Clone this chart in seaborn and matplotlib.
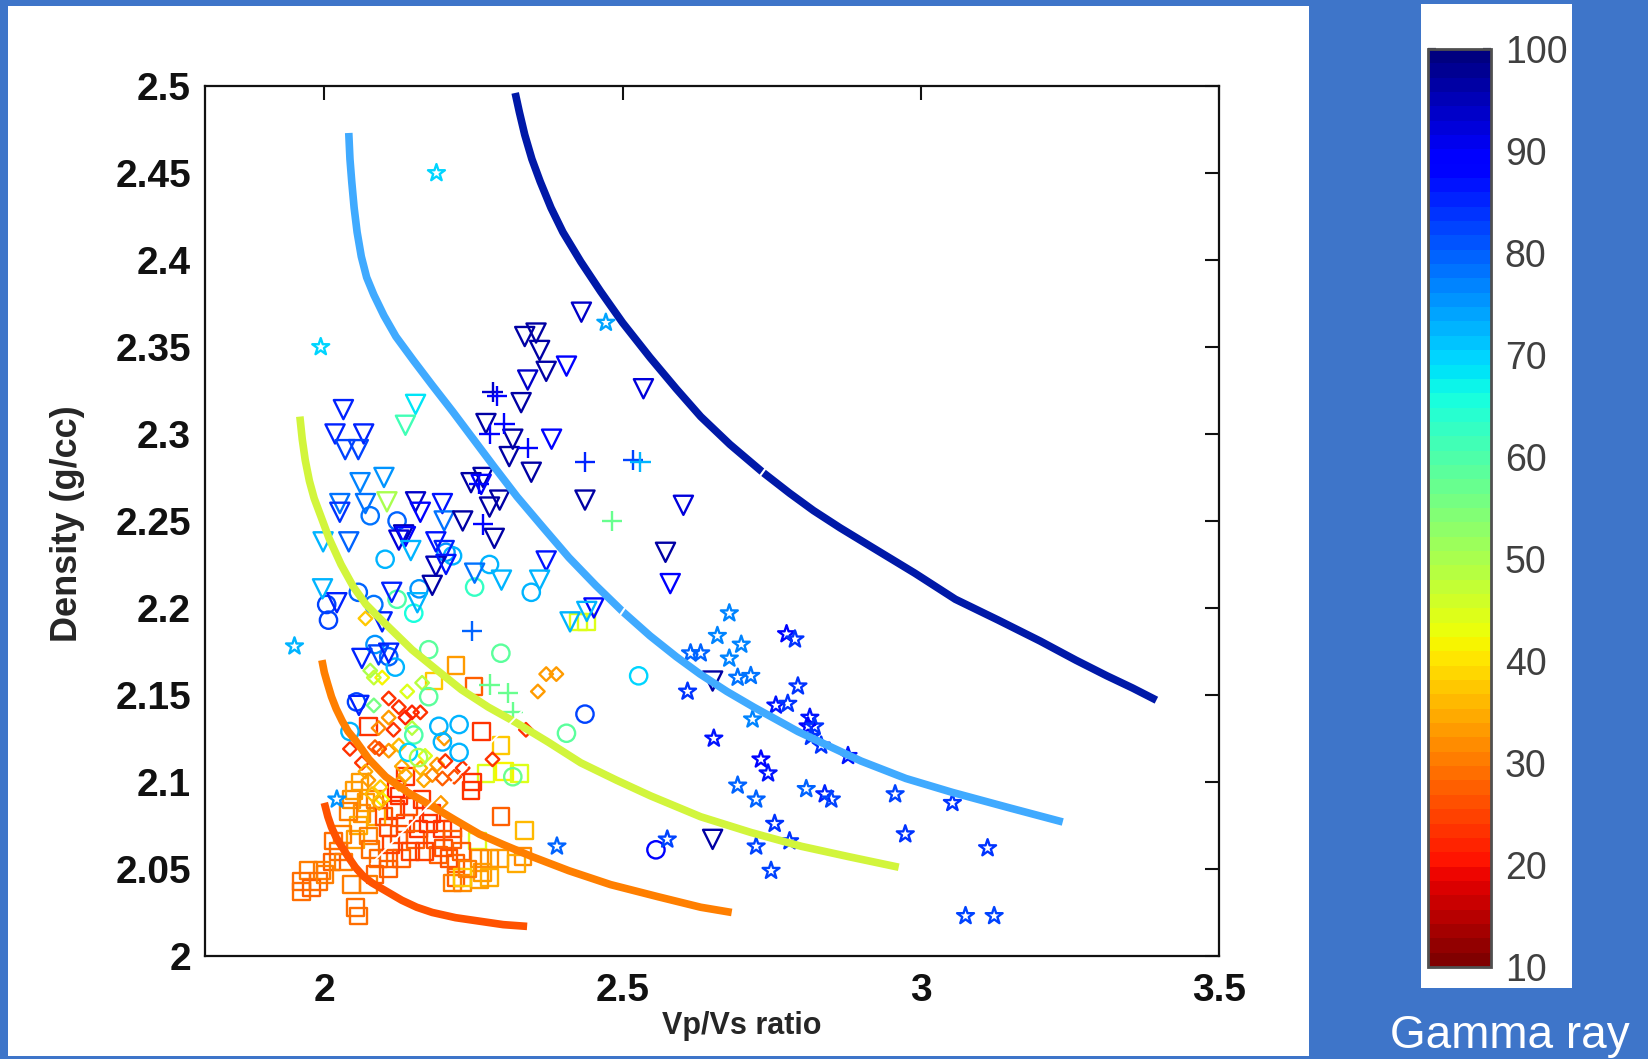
import numpy as np
import matplotlib
matplotlib.use("Agg")
import matplotlib.pyplot as plt
from matplotlib.patches import Rectangle
from matplotlib.ticker import FormatStrFormatter
import seaborn as sns

# ---- values ----
# triangles (down)
tri_x = [2.431, 2.336, 2.355, 2.361, 2.406, 2.341, 2.372, 2.330, 2.535, 2.271,
         2.316, 2.381, 2.310, 2.347, 2.437, 2.602, 2.246, 2.266, 2.263, 2.294,
         2.277, 2.285, 2.032, 2.153, 2.136, 2.018, 2.066, 2.035, 2.057, 2.060,
         2.100, 2.026, 2.026, 2.069, 2.105, 2.153, 2.161, 2.198, 2.201, 2.232,
         2.125, 2.133, 2.136, 2.145, 1.998, 2.041, 2.187, 2.201, 2.187, 2.204,
         2.181, 2.252, 2.297, 2.372, 2.361, 1.997, 2.113, 2.021, 2.156, 2.097,
         2.572, 2.580, 2.452, 2.412, 2.651, 2.651, 2.063, 2.058, 2.091, 2.108,
         2.440]
tri_y = [2.370, 2.356, 2.358, 2.348, 2.339, 2.331, 2.336, 2.318, 2.326, 2.306,
         2.297, 2.297, 2.287, 2.278, 2.262, 2.259, 2.272, 2.275, 2.271, 2.262,
         2.258, 2.240, 2.314, 2.317, 2.305, 2.300, 2.300, 2.291, 2.291, 2.272,
         2.275, 2.260, 2.255, 2.260, 2.261, 2.261, 2.255, 2.260, 2.250, 2.250,
         2.239, 2.242, 2.241, 2.233, 2.238, 2.238, 2.238, 2.233, 2.224, 2.225,
         2.213, 2.220, 2.216, 2.227, 2.216, 2.211, 2.209, 2.203, 2.203, 2.192,
         2.232, 2.214, 2.200, 2.192, 2.158, 2.067, 2.171, 2.144, 2.173, 2.174,
         2.198]
tri_gr = [93, 97, 97, 97, 90, 93, 97, 97, 92, 97,
          97, 88, 97, 97, 97, 92, 97, 97, 90, 97,
          97, 97, 85, 68, 62, 85, 85, 83, 83, 77,
          75, 78, 84, 78, 50, 94, 88, 87, 78, 97,
          92, 95, 88, 72, 73, 80, 87, 85, 95, 86,
          97, 78, 73, 86, 73, 73, 85, 85, 72, 85,
          97, 90, 88, 72, 97, 97, 85, 85, 82, 85,
          72]

# plus signs
plus_x = [2.282, 2.290, 2.302, 2.277, 2.341, 2.437, 2.518, 2.530, 2.482, 2.260,
          2.266, 2.248, 2.277, 2.308, 2.316]
plus_y = [2.324, 2.322, 2.306, 2.300, 2.292, 2.284, 2.285, 2.284, 2.250, 2.271,
          2.248, 2.187, 2.156, 2.151, 2.140]
plus_gr = [93, 90, 88, 90, 88, 85, 82, 72, 57, 88,
           88, 80, 57, 57, 57]

# circles
circ_x = [2.077, 2.122, 2.102, 2.204, 2.215, 2.277, 2.252, 2.347, 2.159, 2.122,
          2.150, 2.004, 2.007, 2.057, 2.083, 2.085, 2.108, 2.119, 2.175, 2.296,
          2.175, 2.054, 2.043, 2.192, 2.226, 2.150, 2.198, 2.406, 2.141, 2.158,
          2.226, 2.316, 2.527, 2.437, 2.556]
circ_y = [2.253, 2.250, 2.228, 2.232, 2.230, 2.225, 2.212, 2.209, 2.211, 2.205,
          2.197, 2.202, 2.193, 2.209, 2.202, 2.179, 2.172, 2.166, 2.176, 2.174,
          2.149, 2.146, 2.129, 2.132, 2.133, 2.127, 2.123, 2.128, 2.117, 2.114,
          2.117, 2.103, 2.161, 2.139, 2.061]
circ_gr = [78, 80, 73, 75, 73, 73, 63, 73, 76, 60,
           65, 82, 82, 80, 78, 75, 80, 72, 58, 58,
           58, 82, 72, 72, 72, 60, 72, 58, 70, 50,
           72, 57, 70, 82, 90]

# diamonds
dia_x = [2.069, 2.077, 2.097, 2.083, 2.139, 2.164, 2.372, 2.389, 2.358, 2.108,
         2.125, 2.147, 2.161, 2.136, 2.083, 2.108, 2.091, 2.116, 2.147, 2.201,
         2.338, 2.043, 2.085, 2.108, 2.169, 2.282, 2.063, 2.130, 2.161, 2.189,
         2.203, 2.069, 2.232, 2.074, 2.136, 2.167, 2.181, 2.218, 2.080, 2.097,
         2.195, 2.092, 2.125, 2.092, 2.094, 2.125, 2.198]
dia_y = [2.194, 2.164, 2.160, 2.160, 2.152, 2.157, 2.162, 2.162, 2.152, 2.148,
         2.143, 2.140, 2.140, 2.137, 2.144, 2.137, 2.131, 2.130, 2.131, 2.125,
         2.130, 2.119, 2.120, 2.118, 2.115, 2.113, 2.111, 2.109, 2.108, 2.110,
         2.112, 2.106, 2.108, 2.101, 2.104, 2.101, 2.104, 2.103, 2.093, 2.090,
         2.088, 2.088, 2.121, 2.119, 2.097, 2.099, 2.102]
dia_gr = [38, 50, 42, 47, 45, 48, 33, 33, 33, 24,
          24, 22, 24, 22, 55, 33, 32, 24, 48, 33,
          24, 24, 27, 33, 45, 24, 24, 34, 36, 33,
          24, 34, 24, 33, 34, 34, 32, 26, 36, 42,
          33, 34, 36, 26, 38, 33, 28]

# squares
sq_x = [2.426, 2.440, 2.221, 2.184, 2.251, 2.074, 2.263, 2.296, 2.271, 2.302,
        2.327, 2.249, 2.136, 2.246, 2.296, 2.336, 2.257, 2.333, 2.046, 2.063,
        2.057, 2.074, 2.052, 2.125, 2.119, 2.142, 2.164, 2.136, 2.108, 2.158,
        2.125, 2.153, 2.175, 2.198, 2.215, 2.187, 2.215, 2.192, 2.209, 2.221,
        2.221, 2.232, 2.215, 2.091, 2.108, 2.130, 2.108, 2.077, 2.024, 2.013,
        2.032, 1.996, 1.973, 1.962, 1.979, 1.962, 2.001, 2.046, 2.074, 2.052,
        2.057, 2.260, 2.277, 2.265, 2.277, 2.294, 2.322, 2.260, 2.232, 2.088,
        2.070, 2.040, 2.050, 2.085, 2.100, 2.112, 2.145, 2.168, 2.180, 2.200,
        2.230, 2.240, 2.030, 2.015, 1.990, 2.085, 2.120, 2.060]
sq_y = [2.192, 2.192, 2.167, 2.158, 2.155, 2.132, 2.129, 2.121, 2.105, 2.106,
        2.105, 2.100, 2.103, 2.095, 2.080, 2.072, 2.066, 2.057, 2.090, 2.082,
        2.075, 2.069, 2.067, 2.092, 2.084, 2.086, 2.090, 2.076, 2.074, 2.073,
        2.070, 2.067, 2.076, 2.073, 2.073, 2.067, 2.067, 2.058, 2.056, 2.053,
        2.045, 2.042, 2.042, 2.056, 2.056, 2.056, 2.050, 2.061, 2.060, 2.054,
        2.054, 2.049, 2.049, 2.043, 2.039, 2.037, 2.047, 2.041, 2.041, 2.028,
        2.023, 2.056, 2.056, 2.048, 2.045, 2.056, 2.053, 2.044, 2.045, 2.080,
        2.088, 2.083, 2.095, 2.090, 2.080, 2.064, 2.060, 2.060, 2.082, 2.062,
        2.060, 2.050, 2.070, 2.066, 2.043, 2.047, 2.096, 2.100]
sq_gr = [44, 44, 33, 38, 28, 24, 24, 38, 44, 42,
         44, 24, 24, 24, 28, 36, 44, 32, 32, 32,
         34, 30, 33, 24, 24, 26, 24, 26, 25, 24,
         26, 27, 24, 24, 25, 26, 27, 27, 26, 27,
         28, 32, 30, 29, 28, 27, 27, 29, 29, 28,
         30, 30, 30, 29, 28, 29, 30, 30, 30, 29,
         29, 32, 32, 33, 34, 33, 34, 33, 38, 35,
         33, 31, 33, 30, 26, 25, 25, 25, 24, 26,
         27, 30, 31, 29, 29, 28, 22, 33]

# stars
star_x = [2.188, 1.994, 2.472, 1.950, 2.021, 2.390, 2.575, 2.679, 2.659, 2.699,
          2.614, 2.631, 2.679, 2.775, 2.789, 2.693, 2.715, 2.609, 2.794, 2.757,
          2.777, 2.718, 2.814, 2.811, 2.822, 2.816, 2.833, 2.878, 2.653, 2.732,
          2.744, 2.693, 2.724, 2.808, 2.839, 2.850, 2.957, 3.053, 2.755, 2.724,
          2.780, 2.974, 2.749, 3.112, 3.075, 3.123]
star_y = [2.450, 2.350, 2.364, 2.178, 2.090, 2.063, 2.067, 2.197, 2.184, 2.179,
          2.174, 2.174, 2.171, 2.185, 2.182, 2.160, 2.161, 2.152, 2.155, 2.144,
          2.145, 2.136, 2.137, 2.132, 2.132, 2.126, 2.121, 2.115, 2.125, 2.113,
          2.105, 2.098, 2.090, 2.096, 2.093, 2.090, 2.093, 2.088, 2.076, 2.063,
          2.066, 2.070, 2.049, 2.062, 2.023, 2.023]
star_gr = [70, 70, 74, 72, 76, 80, 82, 77, 77, 77,
           80, 80, 77, 88, 84, 78, 78, 84, 84, 86,
           84, 77, 86, 88, 84, 84, 84, 86, 86, 88,
           86, 79, 79, 80, 85, 82, 83, 84, 84, 82,
           84, 84, 82, 84, 82, 82]

# curves
navy_x = [2.320, 2.327, 2.336, 2.348, 2.362, 2.380, 2.400, 2.430, 2.463, 2.500,
          2.546, 2.590, 2.631, 2.680, 2.735, 2.780, 2.820, 2.865, 2.913, 2.990,
          3.058, 3.130, 3.200, 3.260, 3.312, 3.355, 3.395]
navy_y = [2.496, 2.485, 2.472, 2.458, 2.445, 2.430, 2.416, 2.399, 2.382, 2.364,
          2.344, 2.326, 2.310, 2.294, 2.278, 2.266, 2.256, 2.246, 2.236, 2.220,
          2.205, 2.193, 2.181, 2.170, 2.161, 2.154, 2.147]
lblue_x = [2.041, 2.043, 2.046, 2.050, 2.055, 2.062, 2.071, 2.083, 2.100, 2.120,
           2.150, 2.181, 2.215, 2.250, 2.285, 2.323, 2.365, 2.410, 2.455, 2.500,
           2.546, 2.590, 2.630, 2.675, 2.720, 2.794, 2.850, 2.900, 2.975, 3.053,
           3.150, 3.238]
lblue_y = [2.473, 2.458, 2.445, 2.430, 2.416, 2.402, 2.390, 2.380, 2.368, 2.356,
           2.342, 2.328, 2.313, 2.297, 2.281, 2.264, 2.247, 2.229, 2.213, 2.198,
           2.184, 2.172, 2.162, 2.152, 2.143, 2.129, 2.120, 2.112, 2.102, 2.094,
           2.085, 2.077]
ygrn_x = [1.959, 1.963, 1.968, 1.975, 1.983, 1.995, 2.008, 2.028, 2.049, 2.070,
          2.096, 2.120, 2.147, 2.190, 2.230, 2.275, 2.322, 2.375, 2.430, 2.490,
          2.547, 2.631, 2.715, 2.800, 2.880, 2.963]
ygrn_y = [2.310, 2.297, 2.285, 2.273, 2.263, 2.252, 2.240, 2.225, 2.212, 2.202,
          2.193, 2.185, 2.176, 2.164, 2.153, 2.143, 2.134, 2.123, 2.111, 2.101,
          2.092, 2.080, 2.071, 2.063, 2.057, 2.051]
orng_x = [1.996, 2.000, 2.005, 2.012, 2.020, 2.030, 2.040, 2.052, 2.075, 2.103,
          2.140, 2.181, 2.220, 2.260, 2.300, 2.349, 2.410, 2.480, 2.560, 2.631,
          2.683]
orng_y = [2.170, 2.163, 2.157, 2.149, 2.142, 2.135, 2.129, 2.124, 2.113, 2.103,
          2.094, 2.086, 2.078, 2.070, 2.064, 2.057, 2.049, 2.041, 2.034, 2.028,
          2.025]
red_x = [2.000, 2.006, 2.012, 2.020, 2.029, 2.040, 2.052, 2.065, 2.080, 2.105,
         2.130, 2.155, 2.181, 2.220, 2.260, 2.300, 2.340]
red_y = [2.088, 2.080, 2.074, 2.068, 2.063, 2.057, 2.051, 2.046, 2.042, 2.037,
         2.032, 2.028, 2.025, 2.022, 2.020, 2.018, 2.017]

x_ticks = [2, 2.5, 3, 3.5]
y_ticks = [2, 2.05, 2.1, 2.15, 2.2, 2.25, 2.3, 2.35, 2.4, 2.45, 2.5]
cb_ticks = [10, 20, 30, 40, 50, 60, 70, 80, 90, 100]

# ---- drawing ----
sns.set_style("white")
plt.rcParams["font.family"] = ["Liberation Sans", "DejaVu Sans"]

bg = "#3e75c9"
fig = plt.figure(figsize=(16.48, 10.59), dpi=100, facecolor=bg)
fig.patches.append(Rectangle((0.005, 0.003), 0.789, 0.991, transform=fig.transFigure,
                             facecolor="white", edgecolor="none", zorder=-10))
fig.patches.append(Rectangle((0.862, 0.067), 0.0916, 0.929, transform=fig.transFigure,
                             facecolor="white", edgecolor="none", zorder=-10))

ax = fig.add_axes([0.1244, 0.0973, 0.6153, 0.8215])
cmap = plt.get_cmap("jet_r", 64)


def hollow(x, y, gr, marker, size):
    sns.scatterplot(x=x, y=y, hue=gr, palette=cmap, hue_norm=(10, 100), marker=marker,
                    s=size, linewidth=1.7, edgecolor=None, legend=False, ax=ax, zorder=2)
    pc = ax.collections[-1]
    cols = np.array(pc.get_facecolors())
    pc.set_edgecolors(cols)
    pc.set_facecolors("none")


hollow(sq_x, sq_y, sq_gr, "s", 145)
hollow(dia_x, dia_y, dia_gr, "D", 48)
hollow(circ_x, circ_y, circ_gr, "o", 155)
hollow(tri_x, tri_y, tri_gr, "v", 190)
hollow(plus_x, plus_y, plus_gr, "+", 210)
hollow(star_x, star_y, star_gr, "*", 165)

for cx, cy, c in [(navy_x, navy_y, "#0019a8"), (lblue_x, lblue_y, "#40aaff"),
                  (ygrn_x, ygrn_y, "#d2f53c"), (orng_x, orng_y, "#ff7f00"),
                  (red_x, red_y, "#ff5200")]:
    sns.lineplot(x=cx, y=cy, sort=False, estimator=None, color=c, lw=5.5,
                 solid_capstyle="butt", solid_joinstyle="round", ax=ax, zorder=3)

# thin white artefacts seen in the original
ax.plot([2.079, 2.335], [2.053, 2.142], color="white", lw=1.3, zorder=4)
ax.plot([2.729, 2.741], [2.2752, 2.2808], color="white", lw=1.5, zorder=4)
ax.plot([2.494, 2.506], [2.195, 2.201], color="white", lw=1.5, zorder=4)

ax.set_xlim(1.8, 3.5)
ax.set_ylim(2, 2.5)
ax.set_xticks(x_ticks)
ax.set_yticks(y_ticks)
ax.xaxis.set_major_formatter(FormatStrFormatter("%g"))
ax.yaxis.set_major_formatter(FormatStrFormatter("%g"))
ax.tick_params(direction="in", length=10, width=1.5, top=True, right=True,
               labelsize=28, colors="#111111")
ax.tick_params(axis="y", pad=10)
ax.tick_params(axis="x", pad=12)
for lbl in ax.get_xticklabels() + ax.get_yticklabels():
    lbl.set_fontweight("bold")
for sp in ax.spines.values():
    sp.set_linewidth(1.6)
    sp.set_color("#111111")

ax.set_xlabel("Vp/Vs ratio", fontsize=22, fontweight="bold", va="top")
ax.set_ylabel("Density (g/cc)", fontsize=26, fontweight="bold")
ax.xaxis.set_label_coords(0.529, -0.063)
ax.yaxis.set_label_coords(-0.118, 0.497)

# colour bar
cax = fig.add_axes([0.8665, 0.0869, 0.0382, 0.8669])
sm = matplotlib.cm.ScalarMappable(norm=matplotlib.colors.Normalize(10, 100), cmap=cmap)
cb = fig.colorbar(sm, cax=cax, ticks=cb_ticks)
cb.outline.set_edgecolor("#505050")
cb.outline.set_linewidth(2)
cax.tick_params(direction="in", length=6, width=1.6, left=True, right=True,
                color="#202040", labelsize=27, labelcolor="#404040", pad=10)

fig.text(0.9163, 0.0104, "Gamma ray", color="white", fontsize=33, ha="center", va="baseline")

fig.savefig("out.png", dpi=100, facecolor=bg)
